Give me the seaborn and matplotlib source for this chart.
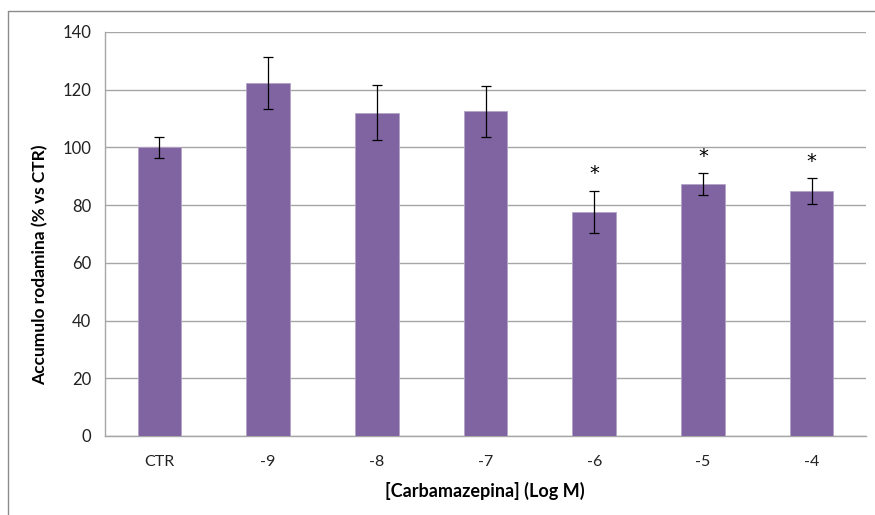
import matplotlib
matplotlib.use("Agg")
import matplotlib.pyplot as plt
from matplotlib.lines import Line2D
import seaborn as sns
import pandas as pd

categories = ["CTR", "-9", "-8", "-7", "-6", "-5", "-4"]
means = [100.0, 122.2, 112.0, 112.5, 77.6, 87.3, 84.9]
errors = [3.5, 9.0, 9.5, 8.8, 7.4, 3.7, 4.5]
significant = [False, False, False, False, True, True, True]
yticks = [0, 20, 40, 60, 80, 100, 120, 140]

df = pd.DataFrame({"dose": categories, "value": means})

sns.set_theme(style="white")
plt.rcParams["font.family"] = ["Lato", "DejaVu Sans"]

fig = plt.figure(figsize=(8.75, 5.15), dpi=100)
ax = fig.add_axes([105 / 875, 1 - 436 / 515, 761 / 875, 404 / 515])

sns.barplot(data=df, x="dose", y="value", color="#8064A2", saturation=1,
            width=0.4, edgecolor="#B3A2C7", linewidth=0.6, ax=ax, zorder=3)

xpos = list(range(len(categories)))
ax.errorbar(xpos, means, yerr=errors, fmt="none", ecolor="black",
            elinewidth=0.9, capsize=3.5, capthick=0.9, zorder=4)

for x, m, e, s in zip(xpos, means, errors, significant):
    if s:
        ax.text(x, m + e + 2.5, "*", ha="center", va="bottom",
                fontsize=14, color="black",
                family=["DejaVu Sans"], zorder=5)

ax.set_xlim(-0.5, len(categories) - 0.5)
ax.set_ylim(0, 140)
ax.set_yticks(yticks)
ax.yaxis.grid(True, color="#A6A6A6", linewidth=1.0, zorder=0)
ax.xaxis.grid(False)
ax.set_axisbelow(True)

for side in ["top", "right"]:
    ax.spines[side].set_visible(False)
for side in ["left", "bottom"]:
    ax.spines[side].set_color("#A6A6A6")
    ax.spines[side].set_linewidth(1.0)

ax.tick_params(axis="y", length=0, pad=10, labelsize=12, labelcolor="#222222")
ax.tick_params(axis="x", length=0, pad=14, labelsize=11.5, labelcolor="#222222")

ax.set_xlabel("[Carbamazepina] (Log M)", fontsize=13, fontweight="bold",
              color="black")
ax.xaxis.set_label_coords((485 - 105) / 761, -(491 - 436) / 404)
ax.set_ylabel("Accumulo rodamina (% vs CTR)", fontsize=12.5, fontweight="bold",
              color="black")
ax.yaxis.set_label_coords((40 - 105) / 761, (436 - 265) / 404)
ax.xaxis.label.set_va("center")
ax.yaxis.label.set_va("center")

# outer chart frame (left and top edges)
fig.add_artist(Line2D([8 / 875, 8 / 875], [0, 1 - 11 / 515],
                      transform=fig.transFigure, color="#8C8C8C", linewidth=1.0))
fig.add_artist(Line2D([8 / 875, 1], [1 - 11 / 515, 1 - 11 / 515],
                      transform=fig.transFigure, color="#8C8C8C", linewidth=1.0))

fig.savefig("out.png", dpi=100, facecolor="white")
